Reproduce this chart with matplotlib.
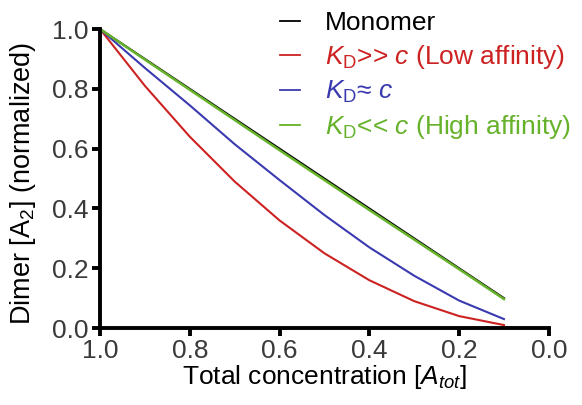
import matplotlib
matplotlib.use("Agg")
import matplotlib.pyplot as plt
import numpy as np

plt.rcParams['font.family'] = ['Liberation Sans', 'DejaVu Sans']
plt.rcParams['mathtext.fontset'] = 'custom'
plt.rcParams['mathtext.rm'] = 'Liberation Sans'
plt.rcParams['mathtext.it'] = 'Liberation Sans:italic'

# total concentration (x) and normalized dimer fraction for each case
conc = [1.0, 0.9, 0.8, 0.7, 0.6, 0.5, 0.4, 0.3, 0.2, 0.1]
monomer = [1.0, 0.9, 0.8, 0.7, 0.6, 0.5, 0.4, 0.3, 0.2, 0.1]
low_aff = [1.0, 0.81, 0.64, 0.49, 0.36, 0.25, 0.16, 0.09, 0.04, 0.01]
mid_aff = [1.0, 0.87, 0.745, 0.615, 0.495, 0.378, 0.27, 0.175, 0.092, 0.03]
high_aff = [1.0, 0.898, 0.797, 0.696, 0.595, 0.495, 0.395, 0.296, 0.197, 0.097]

fs = 19

fig = plt.figure(figsize=(5.82, 4.05), dpi=100)
ax = fig.add_axes([0.172, 0.19, 0.771, 0.738])

ax.plot(conc, monomer, color='black', lw=1.5, label='Monomer')
ax.plot(conc, low_aff, color='#cc2222', lw=1.5, label=r'$K_\mathrm{D}$>> $c$ (Low affinity)')
ax.plot(conc, mid_aff, color='#3a3ab0', lw=1.5, label=r'$K_\mathrm{D}$≈ $c$')
ax.plot(conc, high_aff, color='#66b22a', lw=1.8, label=r'$K_\mathrm{D}$<< $c$ (High affinity)')

ax.set_xlim(1.0, 0.0)
ax.set_ylim(0.0, 1.0)
ax.set_xticks([1.0, 0.8, 0.6, 0.4, 0.2, 0.0])
ax.set_yticks([0.0, 0.2, 0.4, 0.6, 0.8, 1.0])
ax.xaxis.set_major_formatter(matplotlib.ticker.FormatStrFormatter('%.1f'))
ax.yaxis.set_major_formatter(matplotlib.ticker.FormatStrFormatter('%.1f'))

for s in ['top', 'right']:
    ax.spines[s].set_visible(False)
for s in ['left', 'bottom']:
    ax.spines[s].set_linewidth(2.8)
ax.tick_params(width=2.8, length=6, labelsize=fs, labelcolor='#3a3a3a', pad=2)

ax.set_xlabel(r'Total concentration [$A_{tot}$]', fontsize=fs, labelpad=0)
ax.set_ylabel(r'Dimer [A$_\mathrm{2}$] (normalized)', fontsize=19.5)
ax.yaxis.set_label_coords(-0.138, 0.485)

leg = ax.legend(loc='upper left', bbox_to_anchor=(0.40, 1.06), frameon=False,
                fontsize=fs, handlelength=0.76, handletextpad=0.95, labelspacing=0.3,
                borderpad=0, borderaxespad=0)
for line, text in zip(leg.get_lines(), leg.get_texts()):
    text.set_color(line.get_color())
    line.set_linewidth(1.3)

fig.savefig('out.png', dpi=100)
